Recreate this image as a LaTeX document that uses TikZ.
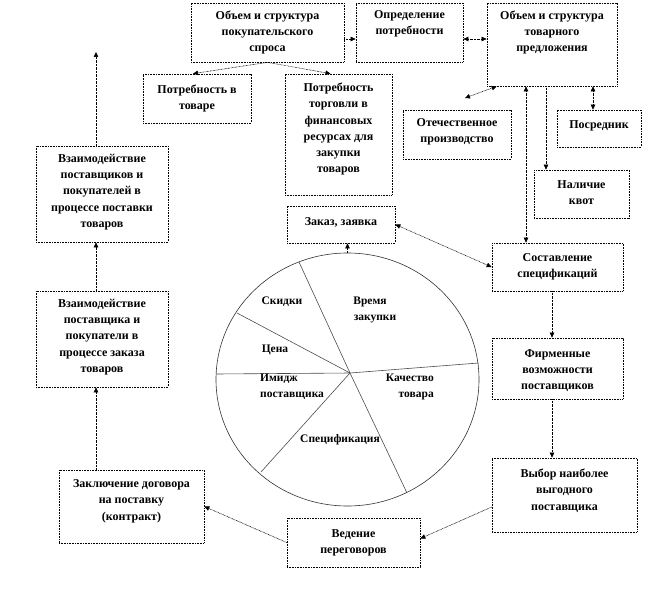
\documentclass[tikz,border=0pt]{standalone}
\usepackage{fontspec}
\setmainfont{Liberation Serif}
\usetikzlibrary{arrows.meta,calc,shapes.geometric}
\begin{document}
\begin{tikzpicture}[x=1pt,y=-1pt,
  boxnode/.style={draw=black, line width=0.7pt, dash pattern=on 0.8pt off 0.8pt, inner sep=0pt, fill=white},
  lbl/.style={font=\fontsize{12}{16.2}\selectfont\bfseries, align=center, inner sep=0pt, anchor=north, execute at begin node=\strut},
  plbl/.style={font=\fontsize{11.5}{16}\selectfont\bfseries, inner sep=0pt},
  conn/.style={line width=0.6pt, dash pattern=on 0.7pt off 0.7pt},
  tip/.style={-{Triangle[length=5pt,width=4.5pt]}},
  ttip/.style={{Triangle[length=5pt,width=4.5pt]}-{Triangle[length=5pt,width=4.5pt]}},
  spoke/.style={draw=black!70, line width=0.6pt}
]
\useasboundingbox (0,0) rectangle (660,591);

% boxes
\node[boxnode, minimum width=153, minimum height=59] (b1) at (267.5,32.5) {};
\node[boxnode, minimum width=107, minimum height=59] (b2) at (409.5,32.5) {};
\node[boxnode, minimum width=130, minimum height=83] (b3) at (552,44.5) {};
\node[boxnode, minimum width=108, minimum height=49] (b4) at (197,98.5) {};
\node[boxnode, minimum width=107, minimum height=121] (b5) at (338.5,134.5) {};
\node[boxnode, minimum width=108, minimum height=49] (b6) at (457,134.5) {};
\node[boxnode, minimum width=84, minimum height=37] (b7) at (599,128.5) {};
\node[boxnode, minimum width=95, minimum height=48] (b8) at (581.5,194) {};
\node[boxnode, minimum width=132, minimum height=96] (b9) at (102,194) {};
\node[boxnode, minimum width=132, minimum height=96] (b10) at (102,339) {};
\node[boxnode, minimum width=108, minimum height=37] (b11) at (341,224.5) {};
\node[boxnode, minimum width=131, minimum height=48] (b12) at (557.5,267) {};
\node[boxnode, minimum width=131, minimum height=61] (b13) at (557.5,368.5) {};
\node[boxnode, minimum width=145, minimum height=74] (b14) at (564.5,495) {};
\node[boxnode, minimum width=133, minimum height=49] (b15) at (353.5,542.5) {};
\node[boxnode, minimum width=145, minimum height=73] (b16) at (131.5,506.5) {};

% labels
\node[lbl] (t1) at (267.5,10.5) {Объем и структура\\покупательского\\спроса};
\node[lbl] (t2) at (409.5,10.5) {Определение\\потребности};
\node[lbl] (t3) at (552,10.5) {Объем и структура\\товарного\\предложения};
\node[lbl] (t4) at (197,84.5) {Потребность в\\товаре};
\node[lbl] (t5) at (338.5,83) {Потребность\\торговли в\\финансовых\\ресурсах для\\закупки\\товаров};
\node[lbl] (t6) at (457,118.5) {Отечественное\\производство};
\node[lbl] (t7) at (599,117) {Посредник};
\node[lbl] (t8) at (581.5,180) {Наличие\\квот};
\node[lbl] (t9) at (102,154) {Взаимодействие\\поставщиков и\\покупателей в\\процессе поставки\\товаров};
\node[lbl] (t10) at (102,299) {Взаимодействие\\поставщика и\\покупатели в\\процессе заказа\\товаров};
\node[lbl] (t11) at (341,214) {Заказ, заявка};
\node[lbl] (t12) at (557.5,253) {Составление\\спецификаций};
\node[lbl] (t13) at (557.5,349) {Фирменные\\возможности\\поставщиков};
\node[lbl] (t14) at (564.5,469) {Выбор наиболее\\выгодного\\поставщика};
\node[lbl] (t15) at (353.5,529.5) {Ведение\\переговоров};
\node[lbl] (t16) at (131.5,479.5) {Заключение договора\\на поставку\\(контракт)};

% pie
\node[draw=black!80, line width=0.6pt, ellipse, minimum width=263, minimum height=253, inner sep=0pt] (pie) at (347.5,379.5) {};
\coordinate (pc) at (350,373);
\coordinate (pa) at (299,262);
\coordinate (pd) at (407,493);
\coordinate (pb) at (237,313);
\coordinate (pl) at (216,374);
\coordinate (pr) at (478.5,363);
\coordinate (pf) at (261,472);
\draw[spoke] (pa) -- (pc) -- (pd);
\draw[spoke] (pb) -- (pc);
\draw[spoke] (pl) -- (pc);
\draw[spoke] (pr) -- (pc);
\draw[spoke] (pf) -- (pc);
\node[plbl] (s1) at (282,302) {Скидки};
\node[plbl, align=center] (s2) at (370,310) {Время\\\hspace*{10pt}закупки};
\node[plbl] (s3) at (275,350) {Цена};
\node[plbl, align=left, anchor=west] (s4) at (260,387) {Имидж\\поставщика};
\node[plbl, align=right, anchor=east] (s5) at (434,387) {Качество\\товара};
\node[plbl] (s6) at (340,440) {Спецификация};

% connectors
\coordinate (a1) at ($(b1.east)+(0,6.5)$);
\draw[conn,tip] (a1) -- (a1 -| b2.west);
\coordinate (a2) at ($(b2.east)+(0,6.5)$);
\draw[conn,ttip] (a2) -- (a2 -| b3.west);
\draw[conn,tip] (b1.south) -- ($(b4.north)+(-4,0)$);
\draw[conn,tip] (b1.south) -- ($(b5.north)+(-8,0)$);
\coordinate (fr) at (465,98);
\draw[conn,ttip] ($(b3.south west)+(10,0)$) -- (fr);
\coordinate (vx1) at (526,0);
\coordinate (vx2) at (546,0);
\coordinate (vx3) at (593,0);
\coordinate (vx4) at (552,0);
\coordinate (vx5) at (96,0);
\draw[conn,ttip] (b3.south -| vx1) -- (b12.north -| vx1);
\draw[conn,tip] (b3.south -| vx2) -- (b8.north -| vx2);
\draw[conn,ttip] (b3.south -| vx3) -- (b7.north -| vx3);
\draw[conn,ttip] (b11.east) -- (b12.west);
\draw[conn,tip] (pie.north) -- (pie.north |- b11.south);
\draw[conn,tip] (b12.south -| vx4) -- (b13.north -| vx4);
\draw[conn,tip] (b13.south -| vx4) -- (b14.north -| vx4);
\draw[conn,tip] ($(b14.west)+(0,12)$) -- ($(b15.east)+(0,-4)$);
\draw[conn,tip] (b15.west) -- (b16.east);
\draw[conn,tip] (b16.north -| vx5) -- (b10.south -| vx5);
\draw[conn,tip] (b10.north -| vx5) -- (b9.south -| vx5);
\coordinate (up) at (96,52);
\draw[conn,tip] (b9.north -| vx5) -- (up);
\end{tikzpicture}
\end{document}
